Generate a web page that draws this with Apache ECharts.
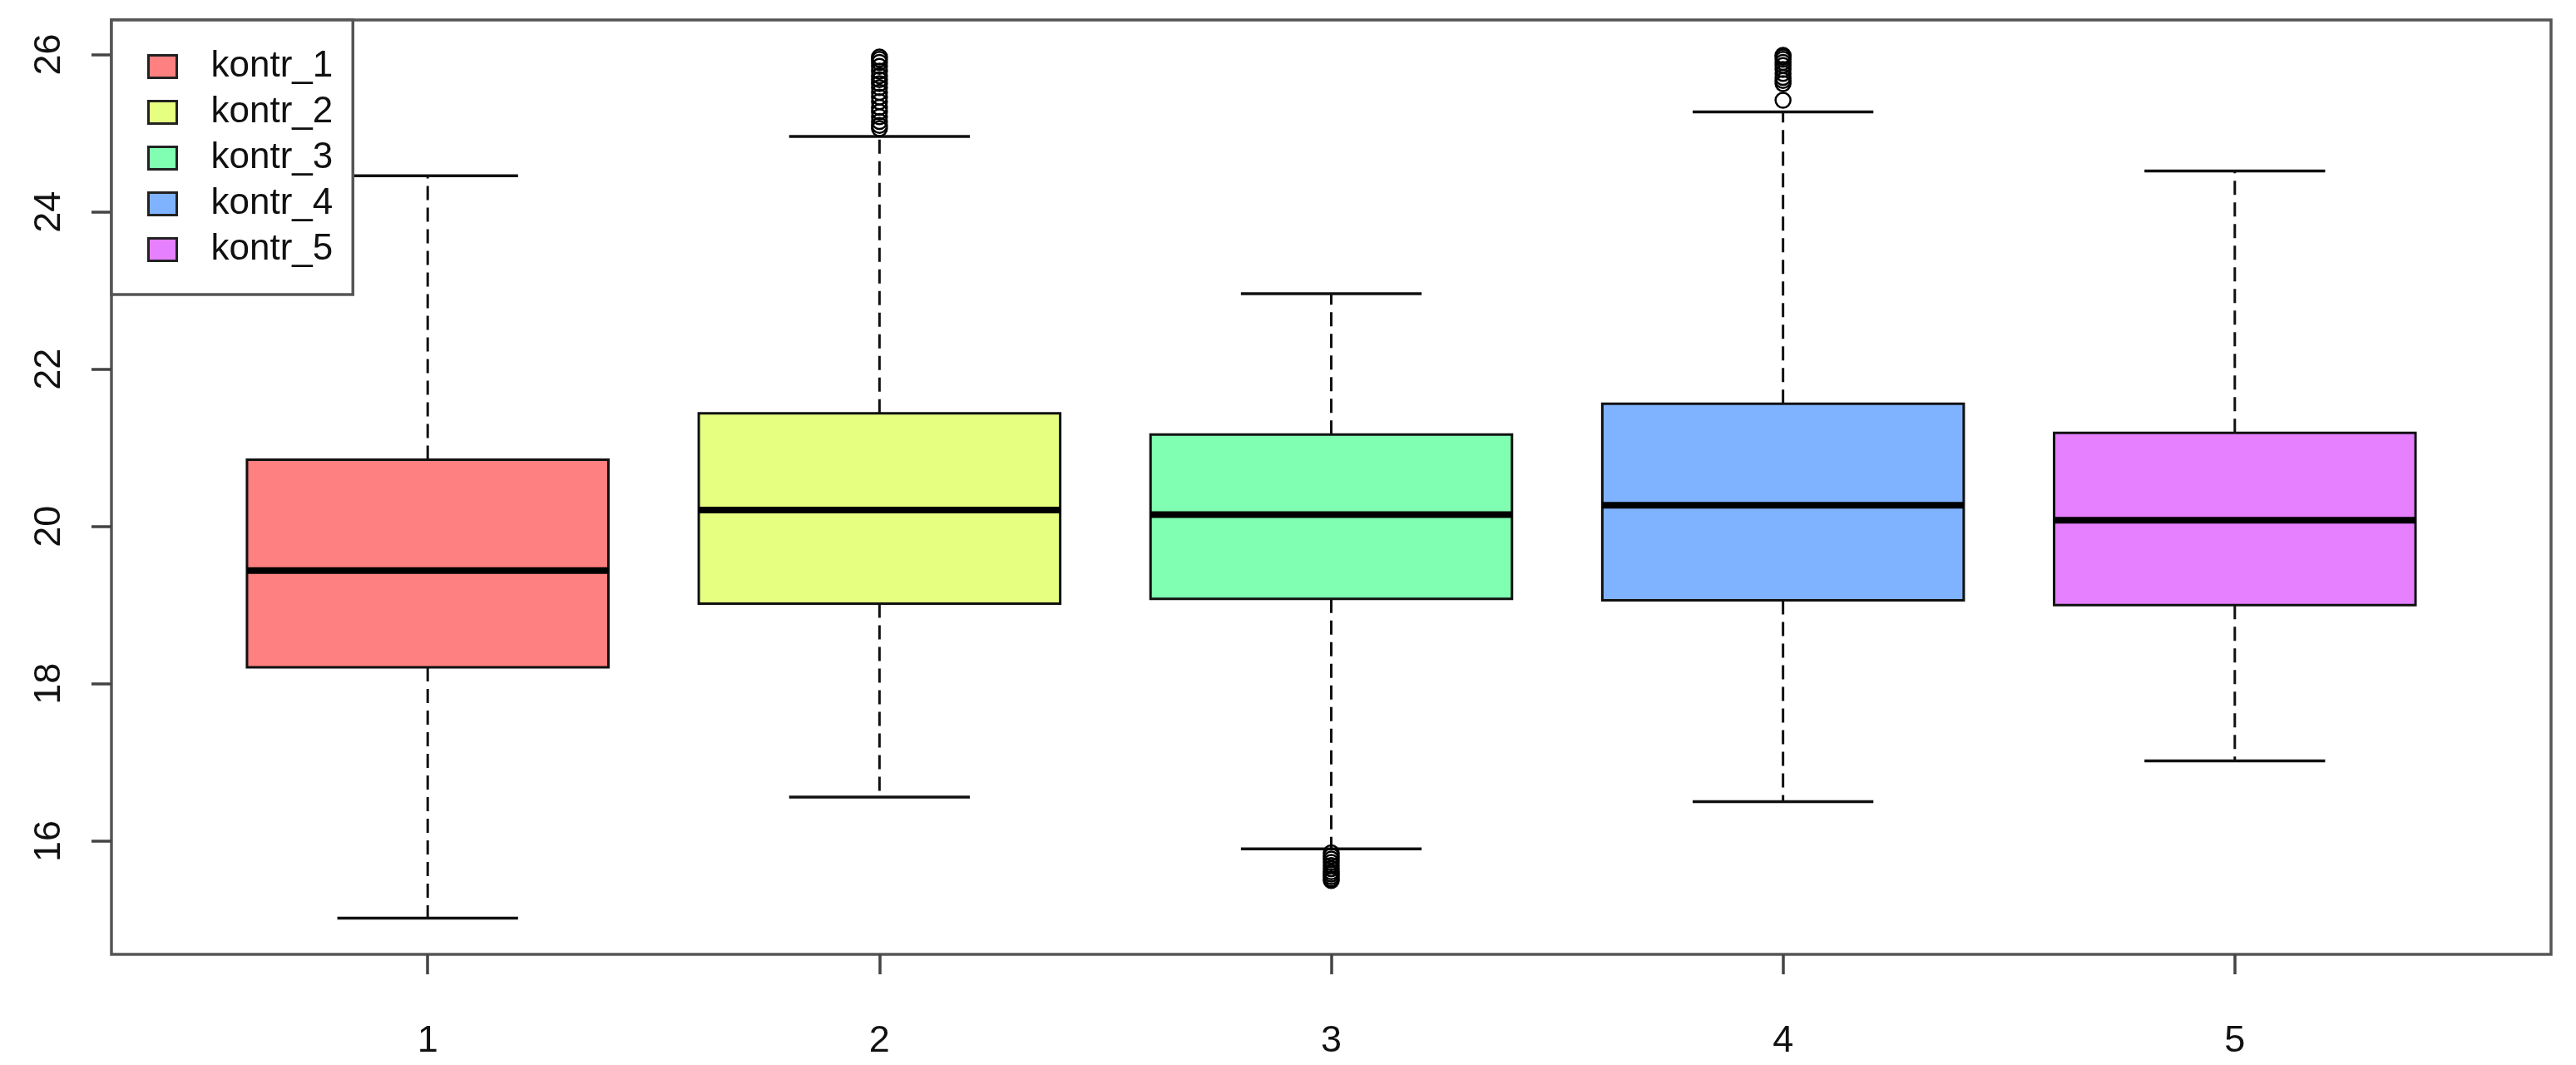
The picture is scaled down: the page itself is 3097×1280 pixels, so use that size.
<!DOCTYPE html>
<html>
<head>
<meta charset="utf-8">
<script src="https://cdn.jsdelivr.net/npm/echarts@6/dist/echarts.min.js"></script>
<style>
html, body { margin: 0; padding: 0; background: #fff; }
#chart { width: 3097px; height: 1280px; }
</style>
</head>
<body>
<div id="chart"></div>
<script>
// group positions and names
const groups = [1, 2, 3, 4, 5];
const groupNames = ['kontr_1', 'kontr_2', 'kontr_3', 'kontr_4', 'kontr_5'];
const groupColors = ['#FF8080', '#E6FF80', '#80FFB3', '#80B3FF', '#E680FF'];

// box statistics
const lowerWhisker = [15.02, 16.56, 15.90, 16.50, 17.02];
const lowerQuartile = [18.21, 19.02, 19.08, 19.06, 19.00];
const medians = [19.44, 20.21, 20.15, 20.27, 20.08];
const upperQuartile = [20.85, 21.44, 21.17, 21.56, 21.19];
const upperWhisker = [24.46, 24.96, 22.96, 25.27, 24.52];

// outliers
const outliers2 = [25.06, 25.10, 25.15, 25.21, 25.27, 25.33, 25.40, 25.46, 25.52, 25.58, 25.63, 25.68, 25.73, 25.79, 25.85, 25.90, 25.94, 25.97];
const outliers3 = [15.85, 15.81, 15.77, 15.73, 15.69, 15.65, 15.61, 15.58, 15.55, 15.52, 15.50];
const outliers4 = [25.42, 25.63, 25.67, 25.71, 25.76, 25.81, 25.86, 25.90, 25.94, 25.97, 25.99];

const yTicks = [16, 18, 20, 22, 24, 26];

const chart = echarts.init(document.getElementById('chart'));

function renderBox(params, api) {
    const x = api.value(0);
    const lo = api.value(1), q1 = api.value(2), md = api.value(3), q3 = api.value(4), hi = api.value(5);
    const half = 0.4, cap = 0.2;
    const tl = api.coord([x - half, q3]);
    const br = api.coord([x + half, q1]);
    const line = (a, b, style) => ({
        type: 'line',
        shape: { x1: a[0], y1: a[1], x2: b[0], y2: b[1] },
        style: Object.assign({ stroke: '#111', lineWidth: 3.5 }, style)
    });
    return {
        type: 'group',
        children: [
            line(api.coord([x, q3]), api.coord([x, hi]), { lineDash: [17, 9], lineWidth: 3 }),
            line(api.coord([x, q1]), api.coord([x, lo]), { lineDash: [17, 9], lineWidth: 3 }),
            line(api.coord([x - cap, hi]), api.coord([x + cap, hi]), {}),
            line(api.coord([x - cap, lo]), api.coord([x + cap, lo]), {}),
            {
                type: 'rect',
                shape: { x: tl[0], y: tl[1], width: br[0] - tl[0], height: br[1] - tl[1] },
                style: { fill: api.visual('color'), stroke: '#111', lineWidth: 3 }
            },
            line(api.coord([x - half, md]), api.coord([x + half, md]), { stroke: '#000', lineWidth: 8 })
        ]
    };
}

let series = [];
groups.map((g, i) => {
    series.push({
        name: groupNames[i],
        type: 'custom',
        color: groupColors[i],
        renderItem: renderBox,
        encode: { x: 0, y: [1, 2, 3, 4, 5] },
        data: [[g, lowerWhisker[i], lowerQuartile[i], medians[i], upperQuartile[i], upperWhisker[i]]],
        z: 2
    });
});

let outlierData = [];
outliers2.forEach(v => outlierData.push([2, v]));
outliers3.forEach(v => outlierData.push([3, v]));
outliers4.forEach(v => outlierData.push([4, v]));
series.push({
    name: 'outliers',
    type: 'scatter',
    symbol: 'circle',
    symbolSize: 18,
    itemStyle: { color: 'rgba(0,0,0,0)', borderColor: '#000', borderWidth: 2.5, opacity: 1 },
    data: outlierData,
    z: 3
});

const textColor = '#111';
const fontFamily = 'Liberation Sans, Arial, sans-serif';

let option = {
    animation: false,
    backgroundColor: '#fff',
    grid: {
        left: 134,
        right: 30,
        top: 24,
        bottom: 133,
        show: true,
        borderColor: '#555',
        borderWidth: 3.5
    },
    legend: {
        left: 134,
        top: 24,
        orient: 'vertical',
        align: 'left',
        padding: [34, 24, 32, 43],
        itemGap: 11,
        itemWidth: 34,
        itemHeight: 27,
        backgroundColor: '#fff',
        borderColor: '#555',
        borderWidth: 3.5,
        borderRadius: 0,
        icon: 'rect',
        selectedMode: false,
        textStyle: {
            color: textColor,
            fontSize: 44,
            lineHeight: 44,
            fontFamily: fontFamily,
            padding: [0, 0, 0, 36]
        },
        data: groupNames.map((n, i) => ({
            name: n,
            itemStyle: { color: groupColors[i], borderColor: '#222', borderWidth: 3 }
        }))
    },
    xAxis: {
        type: 'value',
        min: 0.3,
        max: 5.7,
        axisLine: { show: false },
        splitLine: { show: false },
        axisTick: {
            show: true,
            length: 24,
            customValues: groups,
            lineStyle: { color: '#444', width: 3.5 }
        },
        axisLabel: {
            customValues: groups,
            margin: 82,
            color: textColor,
            fontSize: 45,
            fontFamily: fontFamily
        }
    },
    yAxis: {
        type: 'value',
        min: 14.56,
        max: 26.44,
        axisLine: { show: false },
        splitLine: { show: false },
        axisTick: {
            show: true,
            length: 24,
            customValues: yTicks,
            lineStyle: { color: '#444', width: 3.5 }
        },
        axisLabel: {
            customValues: yTicks,
            rotate: 90,
            margin: 52,
            color: textColor,
            fontSize: 45,
            fontFamily: fontFamily
        }
    },
    series: series
};
chart.setOption(option);
window.addEventListener("resize", () => {
    chart.resize();
});
</script>
</body>
</html>
